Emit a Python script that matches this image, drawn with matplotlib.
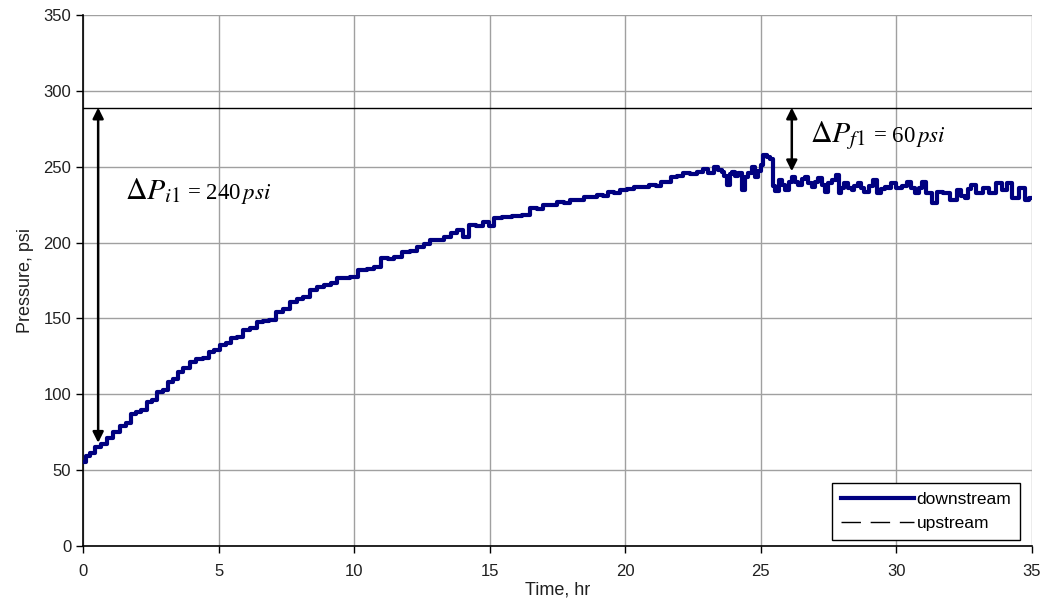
import numpy as np
import matplotlib.pyplot as plt
from matplotlib.lines import Line2D

plt.rcParams['font.family'] = ['Liberation Sans', 'DejaVu Sans']
plt.rcParams['mathtext.fontset'] = 'stix'

### Data.

time_hr = [
    0.0, 0.2, 0.35, 0.56, 0.8, 1.0, 1.25, 1.49, 1.7, 1.86,
    2.05, 2.22, 2.47, 2.65, 2.84, 3.05, 3.21, 3.4, 3.58, 3.8,
    4.07, 4.3, 4.56, 4.74, 4.95, 5.18, 5.35, 5.54, 5.8, 6.03,
    6.3, 6.53, 6.75, 6.96, 7.26, 7.5, 7.76, 8.0, 8.25, 8.5,
    8.74, 9.05, 9.23, 9.48, 9.75, 9.97, 10.34, 10.6, 10.83, 11.14,
    11.35, 11.57, 11.94, 12.2, 12.43, 12.7, 12.92, 13.2, 13.42, 13.7,
    13.91, 14.1, 14.4, 14.6, 14.89, 15.05, 15.3, 15.63, 16.0, 16.37,
    16.61, 16.85, 17.1, 17.35, 17.6, 17.85, 18.09, 18.35, 18.58, 18.8,
    19.08, 19.25, 19.44, 19.7, 19.93, 20.2, 20.43, 20.7, 21.04, 21.2,
    21.41, 21.6, 21.78, 22.0, 22.27, 22.5, 22.76, 22.95, 23.15, 23.37,
    23.5, 23.61, 23.7, 23.8, 23.9, 24.0, 24.1, 24.23, 24.35, 24.47,
    24.6, 24.72, 24.84, 24.95, 25.03, 25.15, 25.28, 25.4, 25.47, 25.6,
    25.71, 25.85, 25.96, 26.1, 26.2, 26.3, 26.45, 26.55, 26.69, 26.8,
    26.94, 27.05, 27.18, 27.3, 27.42, 27.55, 27.67, 27.85, 27.9, 28.0,
    28.15, 28.3, 28.4, 28.5, 28.64, 28.75, 28.89, 29.05, 29.21, 29.38,
    29.5, 29.62, 29.75, 29.87, 30.1, 30.3, 30.5, 30.6, 30.75, 30.9,
    31.0, 31.2, 31.42, 31.6, 31.85, 32.1, 32.33, 32.45, 32.58, 32.7,
    32.83, 33.07, 33.3, 33.55, 33.8, 34.0, 34.15, 34.4, 34.65, 34.8,
    35.0,
]

downstream_psi = [
    55.6, 59, 61, 65, 67, 71, 75, 79, 81, 87,
    88, 89.6, 95, 96, 101.7, 103, 108.3, 110, 114.9, 117,
    121.5, 123, 123.7, 128, 129, 132.5, 134, 136.9, 138, 142.4,
    144, 147.9, 148, 149, 154.5, 156, 161, 163, 164.3, 168.8,
    170.9, 172, 173.2, 176.5, 176.8, 177.5, 181.9, 182.5, 184.1, 189.6,
    189, 190.7, 194, 194.5, 197.3, 199, 201.7, 202, 203.9, 206,
    208.5, 204, 211.6, 211, 213.8, 211, 216, 217.1, 217.5, 218.2,
    222.6, 222, 224.8, 225, 227, 226, 228.1, 228, 229.9, 230,
    231.4, 231, 233.6, 233, 234.7, 235, 236.9, 236.5, 238, 237.5,
    240.2, 240, 243.5, 244, 245.7, 245.5, 246.8, 248.3, 246, 250,
    248, 246.8, 244, 238, 245, 246.8, 244, 245.7, 234.7, 243.5,
    246, 250, 243.5, 247, 251, 258, 256.6, 255, 237, 234,
    241.3, 238, 234.7, 240, 243.5, 240, 238, 242, 243.5, 239,
    236.9, 240, 242.4, 238, 233.6, 239, 241.3, 244.6, 232.5, 236,
    239.1, 236, 234.7, 237, 239.1, 236, 233.6, 237, 241.3, 232.5,
    235, 236.9, 236, 239.1, 235.8, 237, 240.2, 236, 232.5, 236,
    240.2, 232.5, 225.9, 233.6, 232.5, 228.1, 234.7, 231, 229.2, 235,
    238, 232.5, 235.8, 232.5, 239.1, 234.7, 239.1, 229.2, 235.8, 228.1,
    229.2,
]

upstream_time = [0, 35]
upstream_psi = [289, 289]

dp_i1 = 240
dp_f1 = 60
t_i1 = 0.56
t_f1 = 26.14

### Figure.

fig = plt.figure(figsize=(10.41, 6.08), dpi=100)
ax = fig.add_axes([0.0797, 0.102, 0.9117, 0.8733])

ax.plot(time_hr, downstream_psi, color='#000080', lw=3.0, drawstyle='steps-mid', zorder=3)
ax.plot(upstream_time, upstream_psi, color='black', lw=1.0, zorder=3)

ax.set_xlim(0, 35)
ax.set_ylim(0, 350)
ax.set_xticks(np.arange(0, 36, 5))
ax.set_yticks(np.arange(0, 351, 50))
ax.grid(True, color='#a0a0a0', lw=1.0)
ax.set_axisbelow(True)

for side in ('top', 'right'):
    ax.spines[side].set_visible(False)
for side in ('left', 'bottom'):
    ax.spines[side].set_color('black')
    ax.spines[side].set_linewidth(1.2)

ax.tick_params(direction='out', length=5, width=1.0, labelsize=12, colors='black',
               labelcolor='#202020')
ax.tick_params(axis='x', pad=8)
ax.set_xlabel('Time, hr', fontsize=13, labelpad=2, color='#202020')
ax.set_ylabel('Pressure, psi', fontsize=13, labelpad=7, color='#202020')

# pressure drop arrows
arrow_kw = dict(arrowstyle='<|-|>', color='black', lw=1.8, mutation_scale=16,
                shrinkA=0, shrinkB=0)
ax.annotate('', xy=(t_i1, upstream_psi[0] - dp_i1 + 19), xytext=(t_i1, upstream_psi[0]),
            arrowprops=arrow_kw, zorder=4)
ax.annotate('', xy=(t_f1, upstream_psi[0] - dp_f1 + 18), xytext=(t_f1, upstream_psi[0]),
            arrowprops=arrow_kw, zorder=4)

ax.text(1.55, 228.5, r'$\Delta P_{i1}$', fontsize=21.5, va='baseline', ha='left')
ax.text(3.85, 228.5, r'= %d$\,psi$' % dp_i1, fontsize=16.5, va='baseline', ha='left',
        family='Liberation Serif')
ax.text(26.8, 266.5, r'$\Delta P_{f1}$', fontsize=21.5, va='baseline', ha='left')
ax.text(29.15, 266.5, r'= %d$\,psi$' % dp_f1, fontsize=16.5, va='baseline', ha='left',
        family='Liberation Serif')

handles = [
    Line2D([], [], color='#000080', lw=3.0),
    Line2D([], [], color='black', lw=1.0, dashes=(14, 7)),
]
leg = ax.legend(handles, ['downstream', 'upstream'], loc='lower right',
                bbox_to_anchor=(0.9874, 0.0113), fontsize=12.5, frameon=True,
                fancybox=False, edgecolor='black', framealpha=1,
                handlelength=4.2, handletextpad=0.15, borderpad=0.5, labelspacing=0.55,
                borderaxespad=0)
leg.get_frame().set_linewidth(1.0)

fig.savefig('out.png', dpi=100)
